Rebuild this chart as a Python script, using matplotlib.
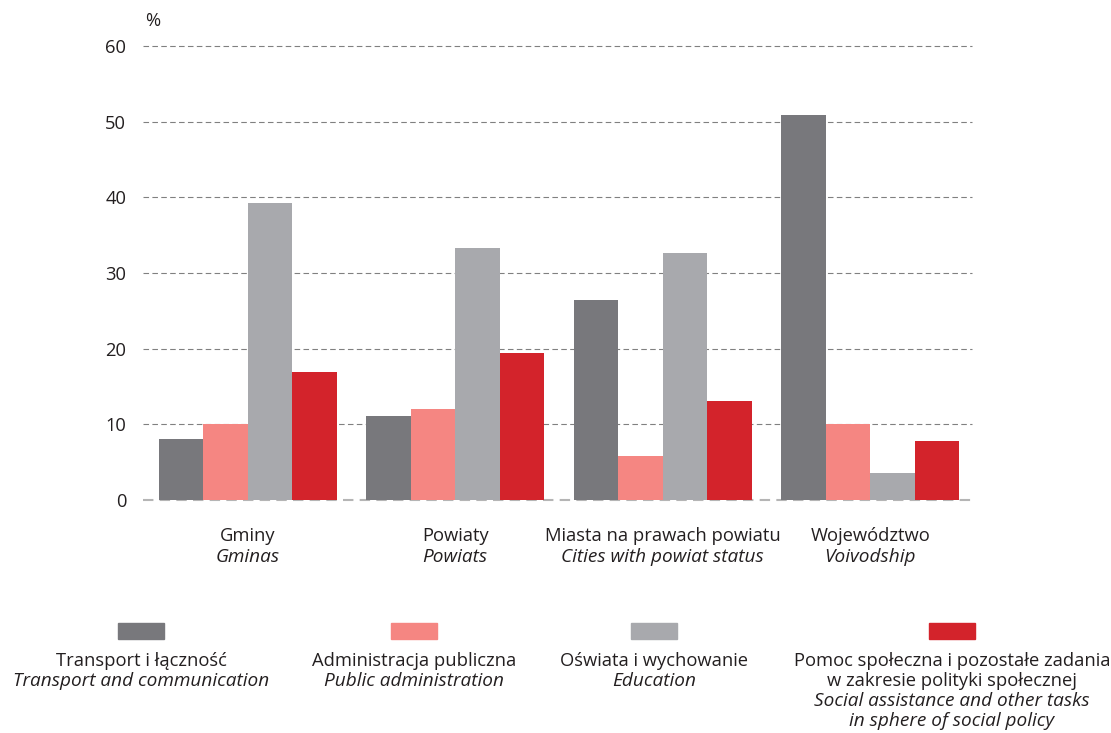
import numpy as np
import matplotlib
matplotlib.use("Agg")
import matplotlib.pyplot as plt
from matplotlib.patches import Rectangle

plt.rcParams['font.family'] = ['Open Sans', 'DejaVu Sans']

# data
groups_pl = ['Gminy', 'Powiaty', 'Miasta na prawach powiatu', 'Województwo']
groups_en = ['Gminas', 'Powiats', 'Cities with powiat status', 'Voivodship']

transport = [8.0, 11.1, 26.4, 50.9]
administracja = [10.0, 12.0, 5.8, 10.0]
oswiata = [39.2, 33.3, 32.6, 3.6]
pomoc = [16.9, 19.4, 13.1, 7.8]

series_pl = [['Transport i łączność'], ['Administracja publiczna'],
             ['Oświata i wychowanie'],
             ['Pomoc społeczna i pozostałe zadania', 'w zakresie polityki społecznej']]
series_en = [['Transport and communication'], ['Public administration'],
             ['Education'], ['Social assistance and other tasks', 'in sphere of social policy']]
colors = ['#78787c', '#f58682', '#a8a9ad', '#d3232b']

yticks = [0, 10, 20, 30, 40, 50, 60]

FS = 13.2
FSI = 13.7
TXT = '#231f20'

fig = plt.figure(figsize=(11.11, 7.33), dpi=100)
ax = fig.add_axes([143/1111, 1-500/733, 829/1111, 454/733])

x = np.arange(len(groups_pl))
w = 0.2145
data = [transport, administracja, oswiata, pomoc]
for i, vals in enumerate(data):
    ax.bar(x + (i - 1.5) * w, vals, width=w, color=colors[i], zorder=2)

ax.set_xlim(-0.504, 3.49)
ax.set_ylim(0, 60)
ax.set_yticks(yticks)
ax.tick_params(axis='y', length=0, pad=12, labelsize=FS, labelcolor=TXT)
ax.set_xticks([])
for s in ax.spines.values():
    s.set_visible(False)
ax.grid(axis='y', linestyle=(0, (5, 3)), color='#808080', lw=0.8, zorder=1)
ax.set_axisbelow(True)
ax.get_ygridlines()[0].set_color('#b5b5b5')
ax.get_ygridlines()[0].set_linewidth(1.5)
for gl in ax.get_ygridlines():
    gl.set_clip_on(False)

ax.annotate('%', xy=(0, 1), xycoords='axes fraction', xytext=(7, 18.3),
            textcoords='offset points', ha='center', va='center', fontsize=FS,
            color=TXT)

for i in range(len(groups_pl)):
    ax.annotate(groups_pl[i], xy=(x[i], 0), xycoords=('data', 'axes fraction'),
                xytext=(0, -26), textcoords='offset points', ha='center', va='center',
                fontsize=FS, color=TXT)
    ax.annotate(groups_en[i], xy=(x[i], 0), xycoords=('data', 'axes fraction'),
                xytext=(0, -41.3), textcoords='offset points', ha='center', va='center',
                fontsize=FSI, style='italic', color=TXT)

# legend drawn by hand: swatch above, two-language label below
lg = fig.add_axes([0, 0, 1, 1])
lg.set_xlim(0, 1111)
lg.set_ylim(733, 0)
lg.axis('off')
leg_x = [141, 414, 654, 952]
for i in range(4):
    lg.add_patch(Rectangle((leg_x[i] - 23, 623), 46, 16, color=colors[i]))
    lines = [(t, 'normal', FS) for t in series_pl[i]] + \
            [(t, 'italic', FSI) for t in series_en[i]]
    for k, (t, st, fs) in enumerate(lines):
        lg.text(leg_x[i], 661.5 + 19.7 * k, t, ha='center', va='center', fontsize=fs,
                style=st, color=TXT)

fig.savefig('out.png', dpi=100)
